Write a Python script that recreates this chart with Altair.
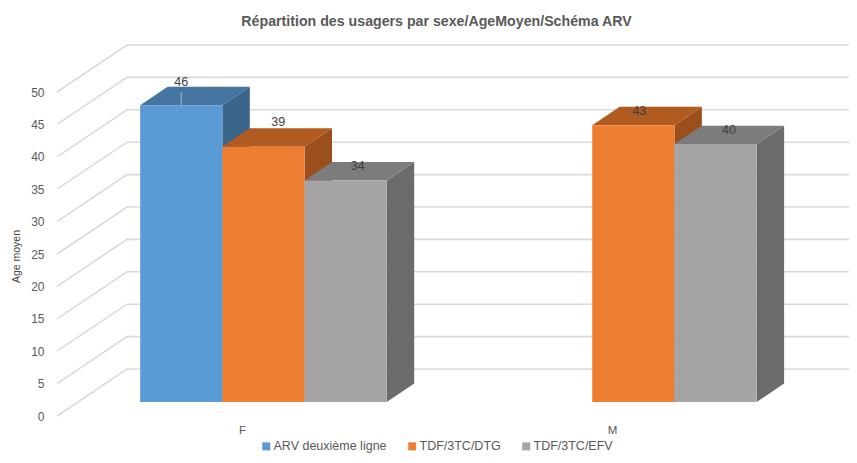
import altair as alt
import pandas as pd

# ---- chart values -------------------------------------------------
categories = ["F", "M"]
series = ["ARV deuxième ligne", "TDF/3TC/DTG", "TDF/3TC/EFV"]
values_F = [45.8, 39.4, 34.2]
values_M = [None, 42.7, 39.8]
y_ticks = [0, 5, 10, 15, 20, 25, 30, 35, 40, 45, 50]

# ---- styles -------------------------------------------------------
front_colors = ["#5B9BD5", "#ED7D31", "#A5A5A5"]
top_colors = ["#4474A0", "#B15B21", "#7C7C7C"]
side_colors = ["#3B6589", "#9A4F1C", "#6B6B6B"]
FONT = "Liberation Sans"
TEXT = "#595959"

# ---- oblique projection layout (page-pixel based x, value based y) ----
PX_PER_UNIT = 6.48
PAD_L, PAD_T = 40, 36
ORIGIN_X, ORIGIN_Y = 48, 44
W, H = 801, 411
ZERO_PAGE_Y = 416
WALL_DX = 70
WALL_DY = 47 / PX_PER_UNIT
BAR_D0 = 0.298
BAR_D1 = 0.69
SLOT = 82.2
CAT_X = {"F": 242.6, "M": 612.5}
LEFT_X, RIGHT_X = 57, ORIGIN_X + W
LABEL_OFFSETS = {
    ("F", 0): (0, -23.6),
    ("F", 1): (14.7, -25),
    ("F", 2): (12, -14),
    ("M", 1): (6, -14),
    ("M", 2): (13.5, -14),
}

x_scale = alt.Scale(domain=[ORIGIN_X, ORIGIN_X + W], range=[0, W], nice=False, zero=False)
y_scale = alt.Scale(
    domain=[(ZERO_PAGE_Y - (ORIGIN_Y + H)) / PX_PER_UNIT, (ZERO_PAGE_Y - ORIGIN_Y) / PX_PER_UNIT],
    range=[H, 0], nice=False, zero=False,
)


def px(x, d):
    return x + WALL_DX * d


def py(v, d):
    return v + WALL_DY * d


fronts, sides, tops, labels = [], [], [], []
for cat, vals in zip(categories, [values_F, values_M]):
    for i, (name, v) in enumerate(zip(series, vals)):
        if v is None:
            continue
        bar = f"{cat}-{i}"
        x0 = CAT_X[cat] + (i - 1.5) * SLOT
        x1 = x0 + SLOT
        fronts.append(dict(series=name, x=px(x0, BAR_D0), x2=px(x1, BAR_D0),
                           y=py(v, BAR_D0), y2=py(0, BAR_D0)))
        for d in (BAR_D0, BAR_D1):
            sides.append(dict(bar=bar, c=side_colors[i], x=px(x1, d), y=py(v, d), y2=py(0, d)))
            tops.append(dict(bar=bar, c=top_colors[i], x=px(x0, d), x2=px(x1, d), y=py(v, d)))
        dx, dy = LABEL_OFFSETS[(cat, i)]
        labels.append(dict(t=str(round(v)), x=px((x0 + x1) / 2, BAR_D0) + dx,
                           y=py(v, BAR_D0) - dy / PX_PER_UNIT))

grid = []
for t in y_ticks:
    grid.append(dict(t=t, o=0, x=LEFT_X, y=py(t, 0)))
    grid.append(dict(t=t, o=1, x=px(LEFT_X, 1), y=py(t, 1)))
    grid.append(dict(t=t, o=2, x=RIGHT_X, y=py(t, 1)))

X = alt.X("x:Q", scale=x_scale, axis=None)
Y = alt.Y("y:Q", scale=y_scale, title="Age moyen",
          axis=alt.Axis(values=y_ticks, domain=False, ticks=False, grid=False, labelPadding=4,
                        labelFont=FONT, labelFontSize=12, labelColor=TEXT, titleFont=FONT,
                        titleFontSize=10.5, titleFontWeight="normal", titleColor="#404040",
                        titleX=-27, titleY=212))

grid_layer = alt.Chart(pd.DataFrame(grid)).mark_line(color="#DADADA", strokeWidth=1.6).encode(
    x=X, y=Y, detail="t:N", order="o:Q",
)
side_layer = alt.Chart(pd.DataFrame(sides)).mark_area(opacity=1, orient="vertical").encode(
    x=X, y=Y, y2="y2:Q", detail="bar:N", color=alt.Color("c:N", scale=None),
)
top_layer = alt.Chart(pd.DataFrame(tops)).mark_area(opacity=1, orient="horizontal").encode(
    x=X, x2="x2:Q", y=Y, detail="bar:N", color=alt.Color("c:N", scale=None),
)
front_layer = alt.Chart(pd.DataFrame(fronts)).mark_rect(opacity=1).encode(
    x=X, x2="x2:Q", y=Y, y2="y2:Q",
    color=alt.Color("series:N", scale=alt.Scale(domain=series, range=front_colors),
                    legend=alt.Legend(title=None, orient="none", direction="horizontal",
                                      legendX=212, legendY=396, symbolType="square", symbolSize=64,
                                      symbolStrokeWidth=0, labelFont=FONT, labelFontSize=12.5,
                                      labelColor=TEXT, columnPadding=19, labelOffset=1)),
)
lead_df = pd.DataFrame([dict(x=labels[0]["x"], y=py(values_F[0], BAR_D0) + 13 / PX_PER_UNIT,
                             y2=py(values_F[0], BAR_D0))])
lead_layer = alt.Chart(lead_df).mark_rule(color="#A9BCCF", strokeWidth=1).encode(
    x=X, y=Y, y2="y2:Q")
label_layer = alt.Chart(pd.DataFrame(labels)).mark_text(
    font=FONT, fontSize=12.5, color="#404040", baseline="middle").encode(
    x=X, y=Y, text="t:N")
cat_df = pd.DataFrame([dict(t=c, x=CAT_X[c], y=-15 / PX_PER_UNIT) for c in categories])
cat_layer = alt.Chart(cat_df).mark_text(font=FONT, fontSize=11.5, color=TEXT, baseline="middle").encode(
    x=X, y=Y, text="t:N")

chart = (
    alt.layer(grid_layer, side_layer, top_layer, front_layer, lead_layer, label_layer, cat_layer)
    .resolve_scale(color="independent")
    .properties(
        width=W, height=H,
        padding={"left": PAD_L, "top": PAD_T, "right": 0, "bottom": 0},
        autosize=alt.AutoSizeParams(type="none"),
        background="white",
        title=alt.TitleParams("Répartition des usagers par sexe/AgeMoyen/Schéma ARV",
                              font=FONT, fontSize=14.2, fontWeight="bold", color=TEXT,
                              anchor="middle", dx=-12, offset=13),
    )
    .configure_view(stroke=None)
)
chart.save("out.html", embed_options={"renderer": "svg", "actions": False})
